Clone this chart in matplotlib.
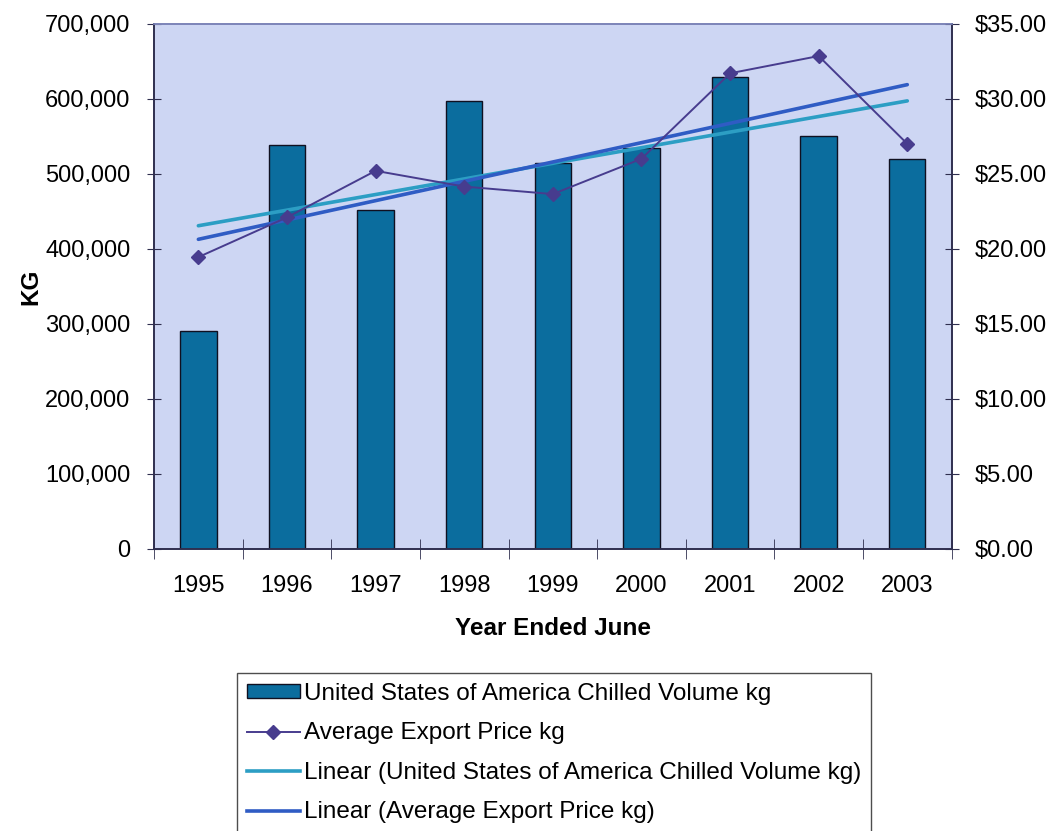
import numpy as np
import matplotlib
matplotlib.use("Agg")
import matplotlib.pyplot as plt
from matplotlib.ticker import FuncFormatter, FixedLocator
from matplotlib.patches import Patch
from matplotlib.lines import Line2D

plt.rcParams["font.family"] = ["Liberation Sans", "DejaVu Sans"]

years = ["1995", "1996", "1997", "1998", "1999", "2000", "2001", "2002", "2003"]
volume_kg = [290000, 538000, 452000, 597000, 515000, 535000, 629000, 550000, 520000]
price_kg = [19.45, 22.10, 25.20, 24.15, 23.65, 26.00, 31.70, 32.85, 27.00]

BAR = "#0b6d9e"
PRICE = "#473c8e"
TREND_VOL = "#2c9ec4"
TREND_PRICE = "#2f5cc4"
BG = "#cdd6f3"
AXC = "#2f2f4f"

x = np.arange(len(years))

# linear trend lines, fitted like the spreadsheet does
vol_fit = np.polyval(np.polyfit(x, volume_kg, 1), x)
price_fit = np.polyval(np.polyfit(x, price_kg, 1), x)

fig = plt.figure(figsize=(10.48, 8.31), dpi=100)
ax = fig.add_axes([0.147, 0.3394, 0.761, 0.632])
ax.set_facecolor(BG)

ax.bar(x, volume_kg, width=0.41, color=BAR, edgecolor="#101020", linewidth=1.0, zorder=2)
ax.plot(x, vol_fit, color=TREND_VOL, lw=2.6, zorder=3, solid_capstyle="round")

ax.set_xlim(-0.5, len(years) - 0.5)
ax.set_ylim(0, 700000)
ax.set_yticks(np.arange(0, 700001, 100000))
ax.yaxis.set_major_formatter(FuncFormatter(lambda v, p: f"{int(v):,}"))
ax.set_xticks(x)
ax.set_xticklabels(years)
ax.xaxis.set_minor_locator(FixedLocator(np.arange(-0.5, len(years), 1.0)))
ax.tick_params(axis="x", which="major", length=0, pad=19, labelsize=17)
ax.tick_params(axis="x", which="minor", length=14, direction="inout", color=AXC)
ax.tick_params(axis="y", length=10, direction="inout", color=AXC, pad=12, labelsize=17)

ax2 = ax.twinx()
ax2.plot(x, price_fit, color=TREND_PRICE, lw=2.6, zorder=3, solid_capstyle="round")
ax2.plot(x, price_kg, color=PRICE, lw=1.4, marker="D", markersize=7, zorder=4)
ax2.set_ylim(0, 35)
ax2.set_yticks(np.arange(0, 35.1, 5))
ax2.yaxis.set_major_formatter(FuncFormatter(lambda v, p: f"${v:.2f}"))
ax2.tick_params(axis="y", length=10, direction="inout", color=AXC, pad=12, labelsize=17)

for a in (ax, ax2):
    a.spines["left"].set_color(AXC)
    a.spines["right"].set_color(AXC)
    a.spines["bottom"].set_color(AXC)
    a.spines["top"].set_color("#7c84b8")
    for s in a.spines.values():
        s.set_linewidth(1.2)

ax.set_xlabel("Year Ended June", fontsize=17.5, fontweight="bold", labelpad=14)
ax.set_ylabel("KG", fontsize=17.5, fontweight="bold", labelpad=2)

handles = [
    Patch(facecolor=BAR, edgecolor="#101020", linewidth=1.0),
    Line2D([], [], color=PRICE, lw=1.4, marker="D", markersize=7),
    Line2D([], [], color=TREND_VOL, lw=2.6),
    Line2D([], [], color=TREND_PRICE, lw=2.6),
]
labels = [
    "United States of America Chilled Volume kg",
    "Average Export Price kg",
    "Linear (United States of America Chilled Volume kg)",
    "Linear (Average Export Price kg)",
]
leg = fig.legend(handles, labels, loc="upper left", bbox_to_anchor=(0.226, 0.190),
                 fontsize=17.5, frameon=True, fancybox=False, edgecolor="#222222",
                 handlelength=2.2, handleheight=0.5, handletextpad=0.15,
                 labelspacing=0.72, borderpad=0.4, borderaxespad=0)
leg.get_frame().set_linewidth(1.0)

fig.savefig("out.png", dpi=100)
